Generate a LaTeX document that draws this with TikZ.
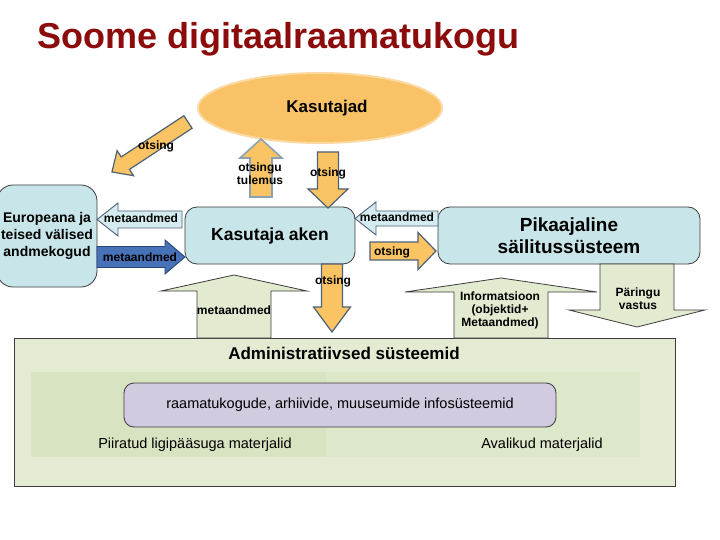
\documentclass[tikz,border=0pt]{standalone}
\usepackage{fontspec}
\setmainfont{Liberation Sans}
\usetikzlibrary{shapes.geometric}
\definecolor{titlered}{RGB}{140,12,12}
\definecolor{orangefill}{RGB}{250,196,100}
\definecolor{slate}{RGB}{78,96,118}
\definecolor{paleslate}{RGB}{140,162,178}
\definecolor{boxblue}{RGB}{200,230,233}
\definecolor{arrowblue}{RGB}{212,236,240}
\definecolor{darkblue}{RGB}{72,114,184}
\definecolor{navyline}{RGB}{40,70,120}
\definecolor{palegreen}{RGB}{226,234,208}
\definecolor{adminfill}{RGB}{227,235,210}
\definecolor{bandleft}{RGB}{215,227,193}
\definecolor{bandright}{RGB}{221,231,202}
\definecolor{lavender}{RGB}{210,202,222}
\definecolor{ellipsefill}{RGB}{249,194,102}
\definecolor{ellipseedge}{RGB}{251,218,162}
\definecolor{edgegray}{RGB}{60,60,60}
\tikzset{
  pics/blockarrow/.style args={#1/#2/#3/#4}{code={
    \draw[pic actions] (0,-#2) -- (#1-#4,-#2) -- (#1-#4,-#3) -- (#1,0)
      -- (#1-#4,#3) -- (#1-#4,#2) -- (0,#2) -- cycle;}}
}
\begin{document}
\begin{tikzpicture}[x=1pt,y=-1pt,
  orangearrow/.style={fill=orangefill,draw=slate,line width=1.2pt},
  tulemusarrow/.style={fill=orangefill,draw=paleslate,line width=1.6pt},
  bluearrow/.style={fill=arrowblue,draw=slate,line width=0.9pt},
  darkarrow/.style={fill=darkblue,draw=navyline,line width=0.9pt},
  greenarrow/.style={fill=palegreen,draw=edgegray,line width=0.8pt},
  roundbox/.style={draw=edgegray,fill=boxblue,rounded corners=12pt,line width=0.8pt,inner sep=0pt,align=center},
  lbl/.style={font=\bfseries\fontsize{12}{13}\selectfont,align=center,inner sep=0pt}]
\fill[white] (0,0) rectangle (720,540);
\useasboundingbox (0,0) rectangle (720,540);

% title
\node[anchor=base west,inner sep=0pt,text=titlered,font=\bfseries\fontsize{36}{40}\selectfont] (title) at (37,49) {Soome digitaalraamatukogu};

% administrative systems
\node[draw=edgegray,fill=adminfill,line width=0.8pt,minimum width=661pt,minimum height=148pt,inner sep=0pt] (admin) at (344.5,412) {};
\node[font=\bfseries\fontsize{17}{19}\selectfont,inner sep=0pt] (admintitle) at (344,353) {Administratiivsed süsteemid};
\fill[bandleft] (31,372) rectangle (326,457);
\fill[bandright] (326,372) rectangle (640,457);
\node[draw=edgegray,fill=lavender,rounded corners=10pt,line width=0.8pt,minimum width=432pt,minimum height=44pt,font=\fontsize{14.5}{16}\selectfont] (infosys) at (340,405) {raamatukogude, arhiivide, muuseumide infosüsteemid};
\node[font=\fontsize{14.5}{16}\selectfont] (piiratud) at (195,445) {Piiratud ligipääsuga materjalid};
\node[font=\fontsize{14.5}{16}\selectfont] (avalikud) at (542,445) {Avalikud materjalid};

% users and boxes
\node[ellipse,draw=ellipseedge,fill=ellipsefill,line width=2pt,minimum width=244pt,minimum height=70pt,inner sep=0pt,font=\bfseries\fontsize{17}{19}\selectfont] (kasutajad) at (320,108) {\hspace*{14pt}Kasutajad};
\node[roundbox,rounded corners=16pt,minimum width=100pt,minimum height=102pt,font=\bfseries\fontsize{14}{17}\selectfont] (europeana) at (47,236) {Europeana ja\\teised välised\\andmekogud};
\node[roundbox,minimum width=170pt,minimum height=57pt,font=\bfseries\fontsize{17.5}{20}\selectfont] (kaken) at (270,235.5) {Kasutaja aken};
\node[roundbox,minimum width=262pt,minimum height=57pt,font=\bfseries\fontsize{19}{22}\selectfont] (pikaajaline) at (569,235.5) {Pikaajaline\\säilitussüsteem};

% block arrows
\pic[orangearrow,rotate=213.3] at (188,122) {blockarrow=91/7.5/15/16};
\pic[tulemusarrow,rotate=90] at (261,197) {blockarrow=58/11/21/19};
\pic[orangearrow,rotate=-90] at (328,152) {blockarrow=56/10.5/20/19};
\pic[bluearrow,rotate=180] at (182,219.5) {blockarrow=85/8.5/16.5/21};
\pic[darkarrow] at (97,257) {blockarrow=88/10.5/17/20};
\pic[bluearrow,rotate=180] at (438,218.5) {blockarrow=83/7.5/16.5/21};
\pic[orangearrow] at (370,251) {blockarrow=66/9/18.5/18};
\pic[orangearrow,rotate=-90] at (332,264) {blockarrow=68/10.5/18.5/25};
\pic[greenarrow,rotate=90] at (234,338) {blockarrow=63/37/73/16};
\pic[greenarrow,rotate=90] at (501,338) {blockarrow=60/47/96/14};
\pic[greenarrow,rotate=-90] at (637,264) {blockarrow=63/37/68/17};

% arrow labels
\node[lbl] (l1) at (156,146) {otsing};
\node[lbl] (l2) at (260,173.5) {otsingu\\tulemus};
\node[lbl] (l3) at (328,173) {otsing};
\node[lbl] (l4) at (141,218) {metaandmed};
\node[lbl] (l5) at (140,257) {metaandmed};
\node[lbl] (l6) at (397,217) {metaandmed};
\node[lbl] (l7) at (392,252) {otsing};
\node[lbl] (l8) at (333,281) {otsing};
\node[lbl] (l9) at (234,310) {metaandmed};
\node[lbl] (l10) at (500,310) {Informatsioon\\(objektid+\\Metaandmed)};
\node[lbl] (l11) at (638,298.5) {Päringu\\vastus};
\end{tikzpicture}
\end{document}
